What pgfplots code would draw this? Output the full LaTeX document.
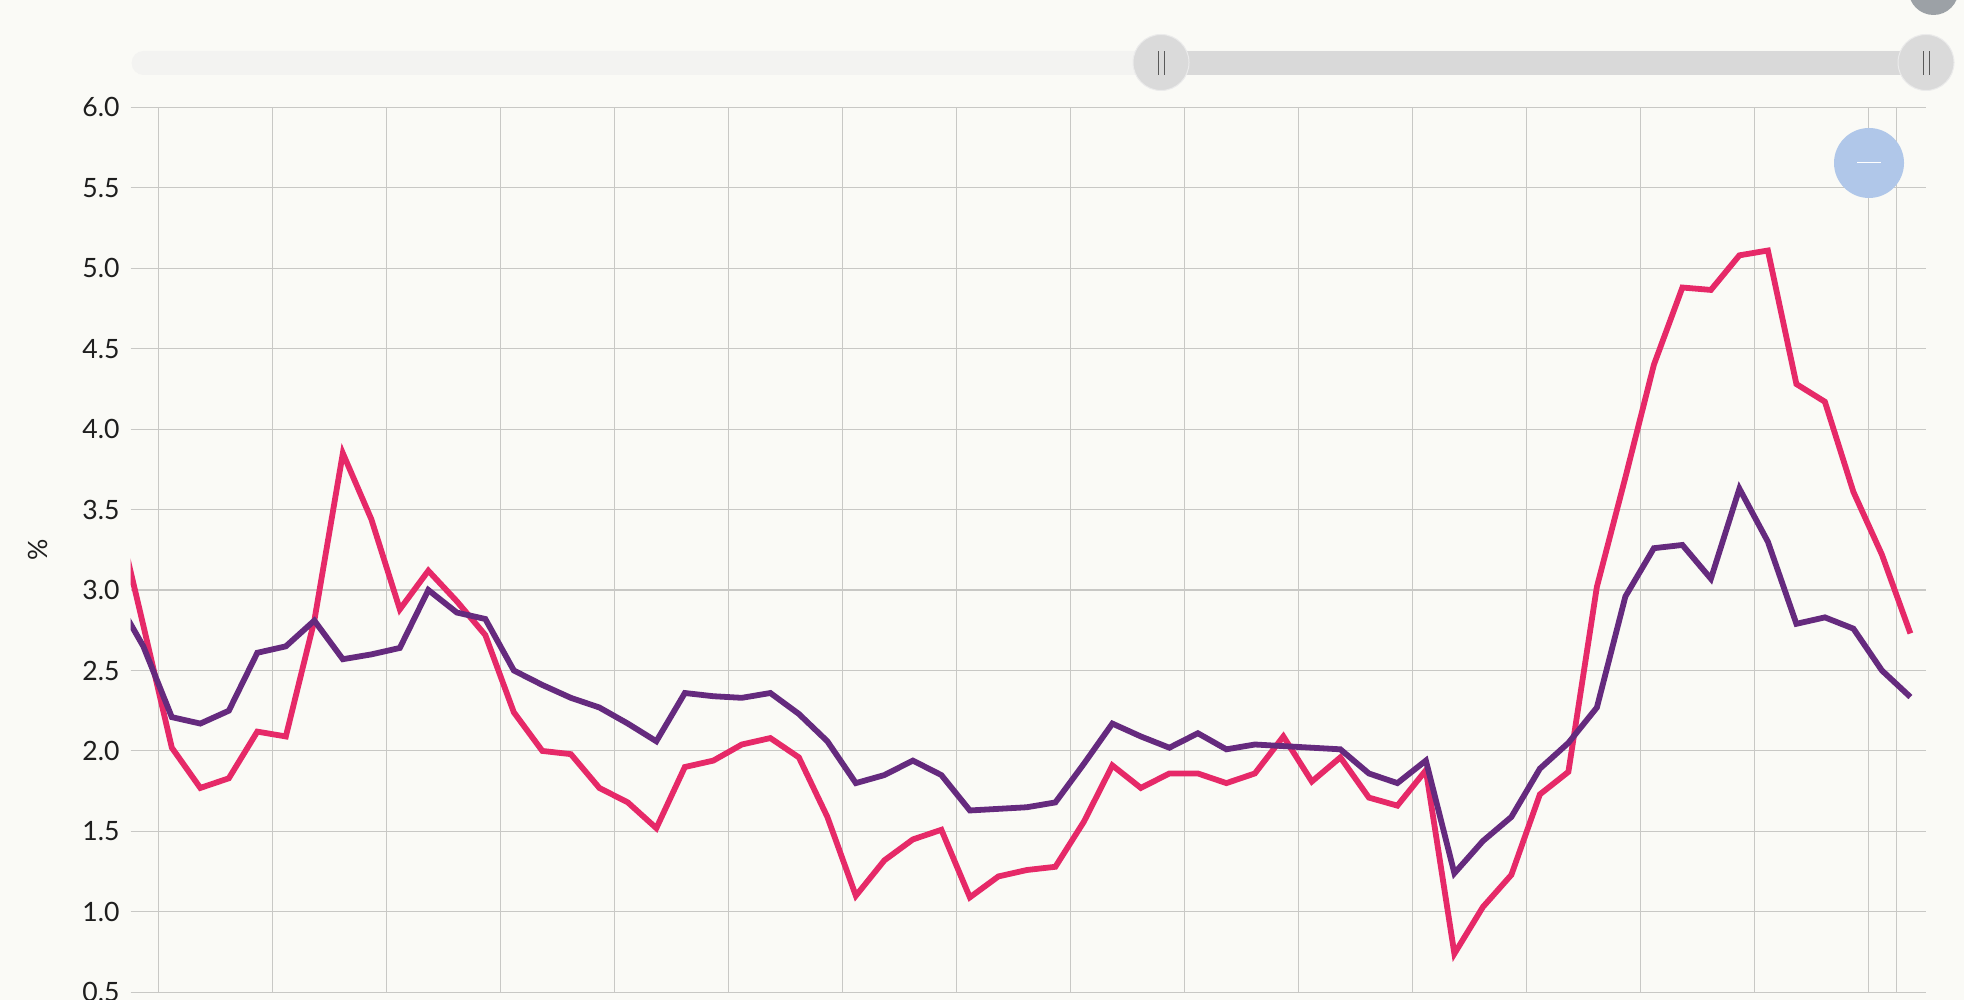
\documentclass[border=0pt]{standalone}
\usepackage{pgfplots}
\usepackage{pgfplotstable}
\pgfplotsset{compat=1.18}
\usepackage{fontspec}
\setmainfont{Lato}
\definecolor{bg}{RGB}{250,250,246}
\definecolor{gridc}{RGB}{200,200,197}
\definecolor{redl}{RGB}{230,41,104}
\definecolor{purl}{RGB}{101,42,126}
\definecolor{trackl}{RGB}{243,243,241}
\definecolor{trackd}{RGB}{217,217,217}
\definecolor{handlec}{RGB}{218,218,218}
\definecolor{topgray}{RGB}{156,161,166}
\definecolor{blueb}{RGB}{176,199,233}
\definecolor{labc}{RGB}{30,30,30}

\pgfplotstableread{
k red purple
0 3.53 2.96
1 2.78 2.65
2 2.02 2.21
3 1.77 2.17
4 1.83 2.25
5 2.12 2.61
6 2.09 2.65
7 2.81 2.81
8 3.85 2.57
9 3.44 2.60
10 2.88 2.64
11 3.12 3.00
12 2.93 2.86
13 2.72 2.82
14 2.24 2.50
15 2.00 2.41
16 1.98 2.33
17 1.77 2.27
18 1.68 2.17
19 1.52 2.06
20 1.90 2.36
21 1.94 2.34
22 2.04 2.33
23 2.08 2.36
24 1.96 2.23
25 1.59 2.06
26 1.10 1.80
27 1.32 1.85
28 1.45 1.94
29 1.51 1.85
30 1.09 1.63
31 1.22 1.64
32 1.26 1.65
33 1.28 1.68
34 1.56 1.92
35 1.91 2.17
36 1.77 2.09
37 1.86 2.02
38 1.86 2.11
39 1.80 2.01
40 1.86 2.04
41 2.09 2.03
42 1.81 2.02
43 1.96 2.01
44 1.71 1.86
45 1.66 1.80
46 1.88 1.94
47 0.74 1.24
48 1.03 1.44
49 1.23 1.59
50 1.73 1.89
51 1.87 2.05
52 3.02 2.27
53 3.70 2.96
54 4.40 3.26
55 4.88 3.28
56 4.865 3.07
57 5.08 3.63
58 5.11 3.30
59 4.28 2.79
60 4.17 2.83
61 3.61 2.76
62 3.22 2.50
63 2.73 2.335
}\datatable

\begin{document}
\begin{tikzpicture}[x=1pt,y=1pt]
\useasboundingbox (0,0) rectangle (982,500);
\clip (0,0) rectangle (982,500);
\fill[bg] (0,0) rectangle (982,500);
% range slider
\fill[trackl, rounded corners=6pt] (65.8,462.5) rectangle (963,474.5);
\fill[trackd] (580.5,462.5) rectangle (963,474.5);
\foreach \hx in {580.5,963}{
  \filldraw[fill=handlec, draw=white!92!black, line width=0.5pt] (\hx,468.75) circle (14);
  \draw[black!65, line width=0.45pt] (\hx-1.5,462.5) -- (\hx-1.5,474.5);
  \draw[black!65, line width=0.45pt] (\hx+1.5,462.5) -- (\hx+1.5,474.5);
}
\fill[topgray] (966.75,505) circle (12.5);

\begin{axis}[
  at={(65.25pt,3.85pt)}, anchor=south west,
  scale only axis, width=897.5pt, height=442.5pt,
  xmin=0.55, xmax=63.53, ymin=0.5, ymax=6,
  axis line style={draw=none},
  major tick length=0pt,
  tick style={draw=none},
  xtick={1.54,5.54,9.54,13.54,17.54,21.54,25.54,29.54,33.54,37.54,41.54,45.54,49.54,53.54,57.54,61.54,62.52},
  xticklabels={},
  ytick={0.5,1,1.5,2,2.5,3,3.5,4,4.5,5,5.5,6},
  xmajorgrids, ymajorgrids,
  grid style={color=gridc, line width=0.55pt},
  yticklabel style={anchor=east, inner sep=0pt, xshift=-5.25pt,
    font=\fontsize{13.3}{15}\selectfont, text=labc,
    /pgf/number format/fixed, /pgf/number format/fixed zerofill,
    /pgf/number format/precision=1, /pgf/number format/assume math mode=true},
  ylabel={\%},
  ylabel style={at={(axis description cs:-0.0513,0.5)}, anchor=center,
    font=\fontsize{13.3}{15}\selectfont, text=labc},
  clip=true,
]
\addplot[color=redl, line width=2.9pt, line join=miter, mark=none] table[x=k, y=red] {\datatable};
\addplot[color=purl, line width=2.9pt, line join=miter, mark=none] table[x=k, y=purple] {\datatable};
\end{axis}

\fill[blueb] (934.5,418.5) circle (17.5);
\draw[white, line width=0.5pt] (928.5,418.5) -- (940.5,418.5);
\end{tikzpicture}
\end{document}
